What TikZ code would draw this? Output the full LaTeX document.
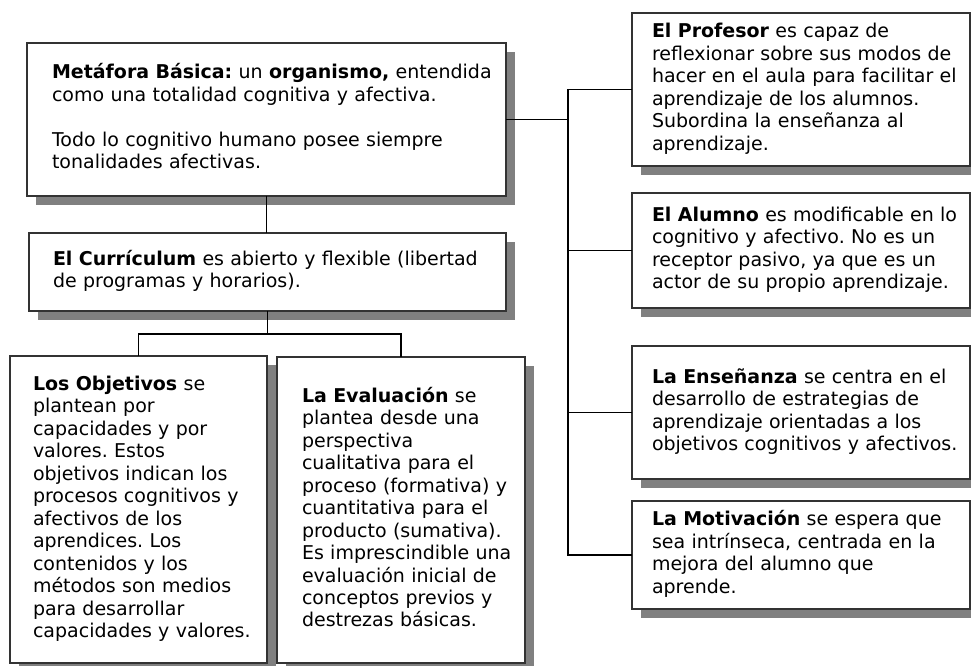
\documentclass[tikz,border=0pt]{standalone}
\usepackage{fontspec}
\setmainfont{DejaVu Sans}
\usetikzlibrary{shadows}
\frenchspacing
\newcommand\boxlines[1]{\begin{tabular}{@{}l@{}}#1\end{tabular}}
\tikzset{
  cbox/.style={draw=black!80, line width=0.8pt, fill=white, anchor=north west,
    inner ysep=0pt, outer sep=0pt, align=left,
    font=\fontsize{14.25}{16.875}\selectfont\frenchspacing,
    drop shadow={shadow xshift=6.75pt, shadow yshift=-6.75pt, fill=black!50, opacity=1}},
  conn/.style={draw=black, line width=1pt}
}
\newcommand\pbox[7]{%
  \pgfmathsetlengthmacro\bw{(#4-#2)*0.75pt}%
  \pgfmathsetlengthmacro\bh{(#5-#3)*0.75pt}%
  \pgfmathsetlengthmacro\ps{#6*0.75pt}%
  \pgfmathsetlengthmacro\tw{(#4-#2-2*#6)*0.75pt}%
  \node[cbox, minimum width=\bw, minimum height=\bh, text width=\tw, inner xsep=\ps] (#1) at (#2,#3) {\boxlines{#7}};}
\begin{document}
\begin{tikzpicture}[x=0.75pt, y=-0.75pt]
\useasboundingbox (0,0) rectangle (971,666);
\clip (0,0) rectangle (971,666);
\fill[white] (0,0) rectangle (971,666);

\pbox{A}{27}{43}{506}{196}{25}{\textbf{Metáfora Básica:} un \textbf{organismo,} entendida\\ como una totalidad cognitiva y afectiva.\\ \mbox{}\\ Todo lo cognitivo humano posee siempre\\ tonalidades afectivas.}
\pbox{B}{29}{233}{506}{311}{24}{\textbf{El Currículum} es abierto y flexible (libertad\\ de programas y horarios).}
\pbox{C}{10}{356}{267}{663}{23}{\textbf{Los Objetivos} se\\ plantean por\\ capacidades y por\\ valores. Estos\\ objetivos indican los\\ procesos cognitivos y\\ afectivos de los\\ aprendices. Los\\ contenidos y los\\ métodos son medios\\ para desarrollar\\ capacidades y valores.}
\pbox{D}{277}{357}{525}{663}{25}{\textbf{La Evaluación} se\\ plantea desde una\\ perspectiva\\ cualitativa para el\\ proceso (formativa) y\\ cuantitativa para el\\ producto (sumativa).\\ Es imprescindible una\\ evaluación inicial de\\ conceptos previos y\\ destrezas básicas.}
\pbox{E}{632}{13}{970}{166}{20}{\textbf{El Profesor} es capaz de\\ reflexionar sobre sus modos de\\ hacer en el aula para facilitar el\\ aprendizaje de los alumnos.\\ Subordina la enseñanza al\\ aprendizaje.}
\pbox{F}{632}{193}{970}{308}{20}{\textbf{El Alumno} es modificable en lo\\ cognitivo y afectivo. No es un\\ receptor pasivo, ya que es un\\ actor de su propio aprendizaje.}
\pbox{G}{632}{346}{970}{479}{20}{\textbf{La Enseñanza} se centra en el\\ desarrollo de estrategias de\\ aprendizaje orientadas a los\\ objetivos cognitivos y afectivos.}
\pbox{H}{632}{501}{970}{609}{20}{\textbf{La Motivación} se espera que\\ sea intrínseca, centrada en la\\ mejora del alumno que\\ aprende.}

\coordinate (trunk) at (568,0);
\draw[conn] (A.south) -- (A.south |- B.north);
\draw[conn] (B.south) -- ++(0,23) coordinate (split);
\draw[conn] (C.north) |- (split) -| (D.north);
\draw[conn] (A.east) -- (A.east -| trunk);
\draw[conn] (E.west) -- (E.west -| trunk) -- (H.west -| trunk) -- (H.west);
\draw[conn] (F.west) -- (F.west -| trunk);
\draw[conn] (G.west) -- (G.west -| trunk);
\end{tikzpicture}
\end{document}
